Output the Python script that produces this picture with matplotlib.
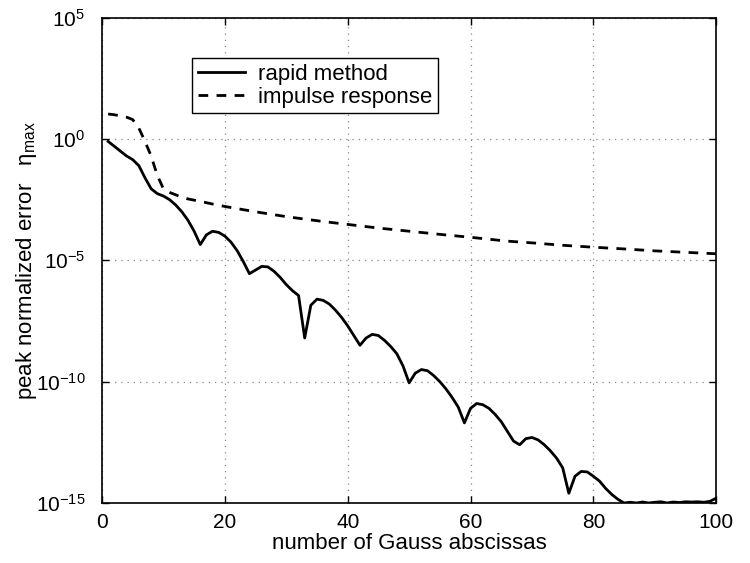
import numpy as np
import matplotlib
matplotlib.use("Agg")
import matplotlib.pyplot as plt
from matplotlib.ticker import FixedLocator, NullLocator

plt.rcParams['font.family'] = ['Liberation Sans', 'DejaVu Sans']
plt.rcParams['mathtext.fontset'] = 'custom'
plt.rcParams['mathtext.rm'] = 'Liberation Sans'
plt.rcParams['mathtext.it'] = 'Liberation Sans:italic'
plt.rcParams['mathtext.bf'] = 'Liberation Sans:bold'

# rapid method: number of abscissas vs log10(peak normalized error)
rapid_x = list(range(1, 101))
rapid_log = [
    -0.10, -0.30, -0.50, -0.70, -0.85, -1.10, -1.60, -2.05, -2.25, -2.35,
    -2.50, -2.72, -3.00, -3.35, -3.80, -4.35, -3.95, -3.80, -3.85, -4.00,
    -4.25, -4.60, -5.05, -5.55, -5.40, -5.25, -5.27, -5.45, -5.70, -6.00,
    -6.25, -6.45, -8.20, -6.85, -6.60, -6.65, -6.80, -7.05, -7.35, -7.70,
    -8.10, -8.50, -8.20, -8.05, -8.10, -8.30, -8.55, -8.85, -9.35, -10.05,
    -9.65, -9.50, -9.55, -9.75, -10.00, -10.30, -10.65, -11.05, -11.70, -11.10,
    -10.90, -10.95, -11.10, -11.35, -11.65, -12.05, -12.45, -12.60, -12.35, -12.30,
    -12.40, -12.60, -12.85, -13.15, -13.55, -14.60, -13.90, -13.70, -13.72, -13.90,
    -14.10, -14.40, -14.65, -14.85, -15.00, -14.97, -15.00, -14.96, -15.00, -14.97,
    -14.95, -15.00, -14.96, -14.98, -14.95, -14.96, -14.95, -14.97, -14.93, -14.80,
]

# impulse response
impulse_x = [1, 2, 3, 4, 5, 6, 7, 8, 9, 10, 11, 12, 13, 14, 16, 18, 20, 25, 30,
             36, 40, 45, 50, 55, 60, 66, 70, 75, 80, 85, 90, 95, 100]
impulse_log = [1.03, 1.00, 0.95, 0.90, 0.80, 0.45, -0.10, -0.70, -1.50, -2.05,
               -2.20, -2.30, -2.40, -2.47, -2.57, -2.68, -2.78, -3.00, -3.20,
               -3.40, -3.52, -3.67, -3.80, -3.93, -4.05, -4.21, -4.28, -4.38,
               -4.46, -4.53, -4.61, -4.67, -4.73]

x_ticks = [0, 20, 40, 60, 80, 100]
y_ticks = [1e-15, 1e-10, 1e-5, 1e0, 1e5]

fig = plt.figure(figsize=(7.5, 5.63), dpi=100)
ax = fig.add_axes([0.136, 0.1066, 0.819, 0.862])

ax.semilogy(rapid_x, 10.0 ** np.array(rapid_log), color='black', lw=2.0,
            linestyle='-', label='rapid method')
ax.semilogy(impulse_x, 10.0 ** np.array(impulse_log), color='black', lw=2.0,
            linestyle=(0, (3.5, 3.0)), label='impulse response')

ax.set_xlim(0, 100)
ax.set_ylim(1e-15, 1e5)
ax.xaxis.set_major_locator(FixedLocator(x_ticks))
ax.yaxis.set_major_locator(FixedLocator(y_ticks))
ax.yaxis.set_minor_locator(NullLocator())
ax.tick_params(direction='in', top=True, right=True, labelsize=15, length=5, width=1)
ax.tick_params(axis='x', pad=7)
ax.tick_params(axis='y', pad=12)
ax.grid(True, linestyle=(0, (1, 4)), color='#888888', linewidth=0.9)
for s in ax.spines.values():
    s.set_linewidth(1.2)

ax.set_xlabel('number of Gauss abscissas', fontsize=16, labelpad=1)
ax.set_ylabel(r'peak normalized error   $\mathrm{\eta}_{\mathrm{max}}$', fontsize=16, labelpad=-2.5)

leg = ax.legend(loc='upper left', bbox_to_anchor=(0.147, 0.917), fontsize=16,
                frameon=True, fancybox=False, edgecolor='black', framealpha=1,
                handlelength=2.1, borderpad=0.25, labelspacing=0.1,
                handletextpad=0.6, borderaxespad=0)
leg.get_frame().set_linewidth(1.0)

fig.savefig('out.png', dpi=100)
